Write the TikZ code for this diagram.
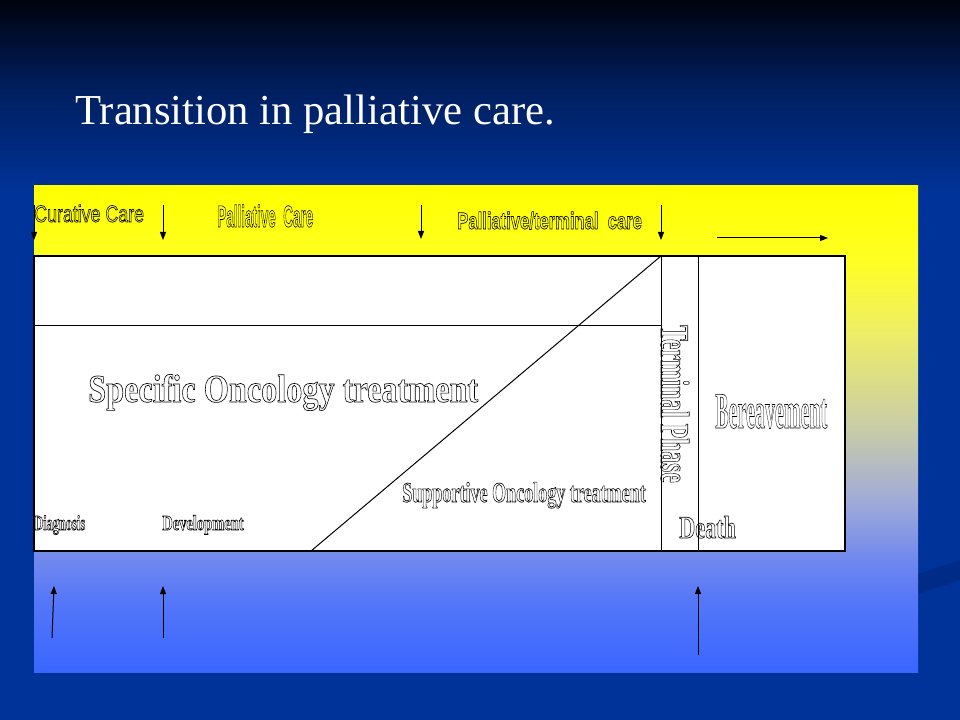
\documentclass[tikz,border=0pt]{standalone}
\usepackage{fontspec}
\setmainfont{Liberation Serif}
\newfontfamily\arialfont{Liberation Sans}
\usepackage{graphicx, xcolor}
\usepackage{tikz}
\usetikzlibrary{calc,arrows.meta}

\definecolor{slidetop}{HTML}{00020E}
\definecolor{slidemid}{HTML}{001E5C}
\definecolor{slideblue}{HTML}{003399}
\definecolor{slidedark}{HTML}{002C88}
\definecolor{pnlA}{HTML}{3A66FF}
\definecolor{pnlB}{HTML}{5577F8}
\definecolor{pnlC}{HTML}{7088EE}
\definecolor{pnlD}{HTML}{A0AAD8}
\definecolor{pnlE}{HTML}{C8CCA8}
\definecolor{pnlF}{HTML}{EEEE66}
\definecolor{pnlG}{HTML}{FFFF22}
\definecolor{pnlH}{HTML}{FFFF00}
% the path is fitted to the 25bp--75bp part of a shading
\pgfdeclareverticalshading{slideshade}{100bp}{color(0bp)=(slideblue); color(61.5bp)=(slideblue); color(69bp)=(slidemid); color(75bp)=(slidetop); color(100bp)=(slidetop)}
\pgfdeclareverticalshading{panelshade}{100bp}{color(0bp)=(pnlA); color(25bp)=(pnlA); color(32.5bp)=(pnlB); color(36.5bp)=(pnlC); color(42.5bp)=(pnlD); color(50bp)=(pnlE); color(60bp)=(pnlF); color(67.5bp)=(pnlG); color(75bp)=(pnlH); color(100bp)=(pnlH)}
\newcommand{\hollow}[1]{\special{pdf:literal direct 1 Tr 0.5 w}#1\special{pdf:literal direct 0 Tr 0.4 w}}

\begin{document}
\begin{tikzpicture}[x=0.75pt,y=-0.75pt,
  lab/.style={anchor=base west,inner sep=0pt},
  sign/.style={line width=0.75pt,-{Triangle[length=6pt,width=4.5pt]}}]
\shade[shading=slideshade] (0,0) rectangle (960,720);
\fill[slidedark] (918,574)--(960,560)--(960,580)--(918,594)--cycle;
\shade[shading=panelshade] (34,186) rectangle (918,672);
\node[lab,text=white,font=\fontsize{32}{36}\selectfont] (title) at (75,125) {Transition in palliative care.};

% the chart
\draw[fill=white,line width=1.2pt] (34,256) rectangle (845,551);
\draw[line width=0.75pt] (34,325) -- (661,325);
\draw[line width=0.75pt] (661,256) -- (661,551);
\draw[line width=0.75pt] (698,256) -- (698,551);
\draw[line width=0.75pt] (311,551) -- (661,256);

% care stages along the top
\node[lab,font=\arialfont\fontsize{17.8}{20}\selectfont] (curative) at (34,222) {\scalebox{0.75}[1]{\hollow{Curative Care}}};
\node[lab,font=\arialfont\bfseries\fontsize{23}{24}\selectfont] (palliative) at (217,227) {\scalebox{0.44}[1]{\hollow{Palliative\ \ Care}}};
\node[lab,font=\arialfont\bfseries\fontsize{17.8}{20}\selectfont] (terminal) at (457,229) {\scalebox{0.7}[1]{\hollow{Palliative/terminal\ \ care}}};

\coordinate (c0) at (34,205);  \coordinate (c1) at (34,240);
\coordinate (p0) at (163,205); \coordinate (p1) at (163,240);
\coordinate (t0) at (421,205); \coordinate (t1) at (421,239);
\coordinate (e0) at (661,205); \coordinate (e1) at (661,240);
\coordinate (b0) at (717,238); \coordinate (b1) at (828,238);
\draw[sign] (c0) -- (c1);
\draw[sign] (p0) -- (p1);
\draw[sign] (t0) -- (t1);
\draw[sign] (e0) -- (e1);
\draw[sign] (b0) -- (b1);

% inside the chart
\node[lab,font=\bfseries\fontsize{29.5}{32}\selectfont] (specific) at (88,402) {\scalebox{0.82}[1]{\hollow{Specific Oncology treatment}}};
\node[lab,font=\bfseries\fontsize{21.5}{24}\selectfont] (supportive) at (402,502) {\scalebox{0.63}[1]{\hollow{Supportive Oncology treatment}}};
\node[lab,font=\bfseries\fontsize{16}{18}\selectfont] (diagnosis) at (34,530) {\scalebox{0.58}[1]{\hollow{Diagnosis}}};
\node[lab,font=\bfseries\fontsize{16}{18}\selectfont] (development) at (162,530) {\scalebox{0.68}[1]{\hollow{Development}}};
\node[lab,font=\bfseries\fontsize{23.8}{26}\selectfont] (death) at (679,538) {\scalebox{0.7}[1]{\hollow{Death}}};
\node[lab,font=\bfseries\fontsize{38.5}{40}\selectfont] (bereavement) at (715,428) {\scalebox{0.39}[1]{\hollow{Bereavement}}};
\node[lab,rotate=-90,font=\bfseries\fontsize{30.6}{32}\selectfont] (phase) at (661,325) {\scalebox{0.58}[1]{\hollow{Terminal Phase}}};

% events along the bottom
\coordinate (d0) at (52,638);  \coordinate (d1) at (54,586);
\coordinate (v0) at (163,638); \coordinate (v1) at (163,586);
\coordinate (x0) at (698,655); \coordinate (x1) at (698,586);
\draw[sign] (d0) -- (d1);
\draw[sign] (v0) -- (v1);
\draw[sign] (x0) -- (x1);
\end{tikzpicture}
\end{document}
